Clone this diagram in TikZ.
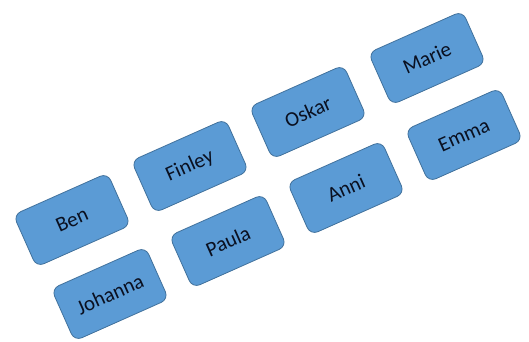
\documentclass[tikz,border=0pt]{standalone}
\usepackage{fontspec}
\setmainfont{Carlito}
\definecolor{boxfill}{HTML}{5B9BD5}
\definecolor{boxline}{HTML}{41719C}
\definecolor{boxtext}{HTML}{0A1020}
\begin{document}
\begin{tikzpicture}[x=1pt,y=-1pt,
  namebox/.style={draw=boxline, line width=0.8pt, fill=boxfill, rounded corners=8pt,
    minimum width=103pt, minimum height=57pt, rotate=24, inner sep=0pt,
    text=boxtext, font=\fontsize{21}{24}\selectfont}]
\useasboundingbox (0,0) rectangle (529,341);
\node[namebox] (ben) at (72,220) {Ben};
\node[namebox] (finley) at (190,166) {Finley};
\node[namebox] (oskar) at (308,112) {Oskar};
\node[namebox] (marie) at (427,58) {Marie};
\node[namebox] (johanna) at (110,294) {Johanna};
\node[namebox] (paula) at (228,241) {Paula};
\node[namebox] (anni) at (346,188) {Anni};
\node[namebox] (emma) at (464,135) {Emma};
\end{tikzpicture}
\end{document}
